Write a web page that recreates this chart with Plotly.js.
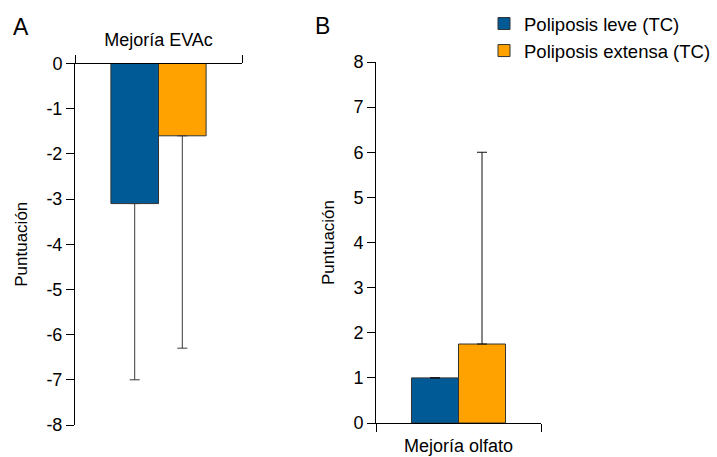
<!DOCTYPE html>
<html>
<head>
<meta charset="utf-8">
<script src="https://cdn.plot.ly/plotly-3.0.1.min.js"></script>
<style>
  html, body { margin: 0; padding: 0; background: #fff; }
  #chart { width: 717px; height: 457px; }
</style>
</head>
<body>
<div id="chart"></div>
<script>
// Groups and colours
const seriesNames = ['Poliposis leve (TC)', 'Poliposis extensa (TC)'];
const seriesColors = ['#005a96', '#ffa200'];

// Panel A: improvement in VAS score (mean, lower error)
const catA = ['Mejoría EVAc'];
const leveA = [-3.1];
const extensaA = [-1.6];
const leveAErrMinus = [3.9];
const extensaAErrMinus = [4.7];
const tickValsA = [0, -1, -2, -3, -4, -5, -6, -7, -8];
const tickTextA = ['0', '-1', '-2', '-3', '-4', '-5', '-6', '-7', '-8'];

// Panel B: smell improvement (mean, upper error)
const catB = ['Mejoría olfato'];
const leveB = [1.0];
const extensaB = [1.75];
const leveBErrPlus = [0];
const extensaBErrPlus = [4.25];
const tickValsB = [0, 1, 2, 3, 4, 5, 6, 7, 8];
const tickTextB = ['0', '1', '2', '3', '4', '5', '6', '7', '8'];

const FONT = '"Liberation Sans", Arial, sans-serif';
const outline = { color: '#333333', width: 1 };

function errDown(vals) {
  return { type: 'data', symmetric: false, array: vals.map(() => 0), arrayminus: vals,
           color: '#3a3a3a', thickness: 1, width: 5 };
}
function errUp(vals) {
  return { type: 'data', symmetric: false, array: vals, arrayminus: vals.map(() => 0),
           color: '#111111', thickness: 1, width: 5 };
}

const traces = [
  { type: 'bar', x: catA, y: leveA, name: seriesNames[0],
    marker: { color: seriesColors[0], line: outline }, error_y: errDown(leveAErrMinus),
    xaxis: 'x', yaxis: 'y', showlegend: true },
  { type: 'bar', x: catA, y: extensaA, name: seriesNames[1],
    marker: { color: seriesColors[1], line: outline }, error_y: errDown(extensaAErrMinus),
    xaxis: 'x', yaxis: 'y', showlegend: true },
  { type: 'bar', x: catB, y: leveB, name: seriesNames[0],
    marker: { color: seriesColors[0], line: outline }, error_y: errUp(leveBErrPlus),
    xaxis: 'x2', yaxis: 'y2', showlegend: false },
  { type: 'bar', x: catB, y: extensaB, name: seriesNames[1],
    marker: { color: seriesColors[1], line: outline }, error_y: errUp(extensaBErrPlus),
    xaxis: 'x2', yaxis: 'y2', showlegend: false }
];

const W = 717, H = 457;
const axisCommon = {
  showline: true, linecolor: '#000', linewidth: 1,
  ticks: 'outside', ticklen: 8, tickcolor: '#000', tickwidth: 1,
  showgrid: false, zeroline: false,
  tickfont: { family: FONT, size: 18, color: '#000' }
};
const yTitleFont = { family: FONT, size: 17, color: '#000' };

const layout = {
  width: W, height: H,
  margin: { l: 0, r: 0, t: 0, b: 0, autoexpand: false },
  paper_bgcolor: '#fff', plot_bgcolor: 'rgba(0,0,0,0)',
  barmode: 'group', bargap: 0.43, bargroupgap: 0,
  font: { family: FONT, color: '#000' },
  xaxis: Object.assign({}, axisCommon, {
    domain: [75 / W, 242 / W], anchor: 'y', side: 'top',
    type: 'category', tickson: 'boundaries', ticklen: 8, ticklabelstandoff: 9
  }),
  yaxis: Object.assign({}, axisCommon, {
    domain: [(H - 425) / H, (H - 63.5) / H], anchor: 'x',
    range: [-8, 0], tickmode: 'array', tickvals: tickValsA, ticktext: tickTextA,
    title: { text: 'Puntuación', font: yTitleFont, standoff: 14 }
  }),
  xaxis2: Object.assign({}, axisCommon, {
    domain: [376 / W, 541 / W], anchor: 'y2', side: 'bottom',
    type: 'category', tickson: 'boundaries', ticklen: 8, ticklabelstandoff: 6
  }),
  yaxis2: Object.assign({}, axisCommon, {
    domain: [(H - 423) / H, (H - 62) / H], anchor: 'x2',
    range: [0, 8], tickmode: 'array', tickvals: tickValsB, ticktext: tickTextB,
    title: { text: 'Puntuación', font: yTitleFont, standoff: 14 }
  }),
  legend: {
    x: 484 / W, y: 1 - 5 / H, xanchor: 'left', yanchor: 'top',
    font: { family: FONT, size: 18.5, color: '#000' },
    bgcolor: 'rgba(0,0,0,0)', tracegroupgap: 0, traceorder: 'normal'
  },
  annotations: [
    { text: 'A', x: 11 / W, y: 1 - 27 / H, xref: 'paper', yref: 'paper',
      xanchor: 'left', yanchor: 'middle', showarrow: false,
      font: { family: FONT, size: 23, color: '#000' } },
    { text: 'B', x: 313 / W, y: 1 - 26 / H, xref: 'paper', yref: 'paper',
      xanchor: 'left', yanchor: 'middle', showarrow: false,
      font: { family: FONT, size: 23, color: '#000' } }
  ]
};

Plotly.newPlot('chart', traces, layout, { displayModeBar: false, staticPlot: true });
</script>
</body>
</html>
